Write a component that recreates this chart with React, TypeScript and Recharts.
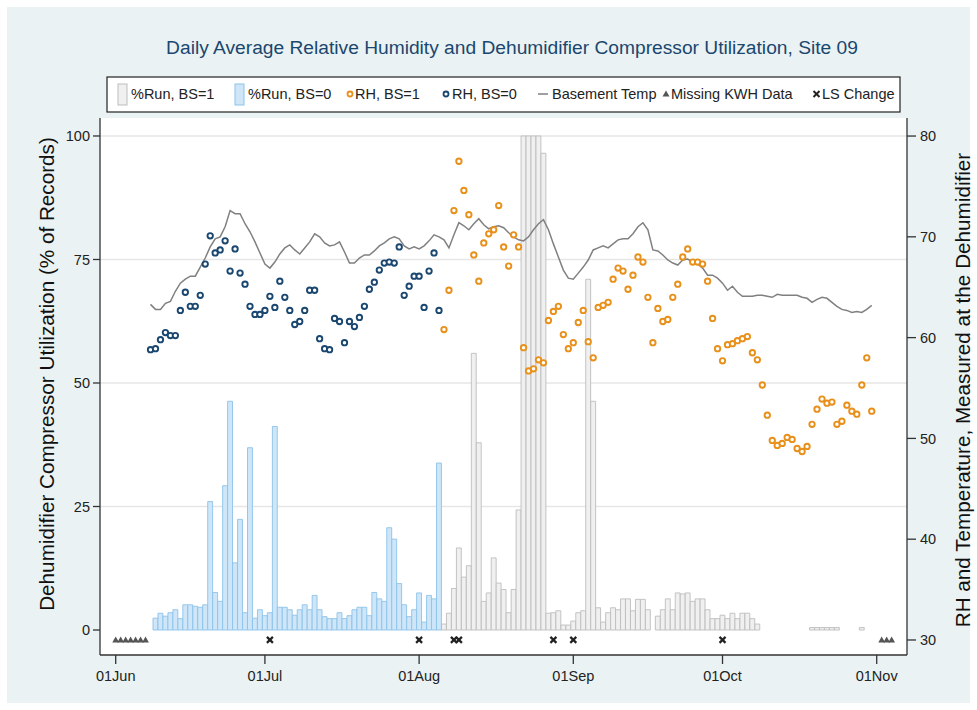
import React from 'react';
import { ComposedChart, Bar, Line, Scatter, XAxis, YAxis, CartesianGrid } from 'recharts';

const FONT = '"Liberation Sans", Arial, Helvetica, sans-serif';

const TITLE = 'Daily Average Relative Humidity and Dehumidifier Compressor Utilization, Site 09';
const LEFT_TITLE = 'Dehumidifier Compressor Utilization (% of Records)';
const RIGHT_TITLE = 'RH and Temperature, Measured at the Dehumidifier';

// x axis: day index (0 = 01Jun)
const xTickDays = [0, 30, 61, 92, 122, 153];
const xTickLabels = ['01Jun', '01Jul', '01Aug', '01Sep', '01Oct', '01Nov'];
const leftTicks = [0, 25, 50, 75, 100];
const rightTicks = [30, 40, 50, 60, 70, 80];
const gridValues = [25, 50, 75, 100];

// %Run, BS=0 (days 8..65)
const runBS0Start = 8;
const runBS0 = [
  2.4, 3.4, 2.8, 3.5, 4.1, 2.3, 5.1, 5.1, 4.8, 4.6, 5.1, 26.0, 7.6, 5.8, 29.2, 46.3, 13.6, 22.4, 3.5, 36.9,
  2.4, 4.1, 2.9, 3.5, 41.2, 4.6, 4.6, 4.1, 3.0, 4.1, 5.1, 4.1, 7.0, 4.1, 2.7, 2.3, 2.3, 3.5, 2.3, 2.9,
  4.1, 4.6, 4.6, 2.9, 7.6, 6.3, 5.8, 20.7, 18.4, 9.4, 5.1, 2.7, 4.1, 7.5, 1.6, 7.0, 6.3, 33.8,
];

// %Run, BS=1 (days 66..150)
const runBS1Start = 66;
const runBS1: (number | null)[] = [
  1.2, 3.4, 8.4, 16.6, 10.7, 13.0, 56, 37.9, 5.8, 7.5, 14.6, 9.5, 8.2, 3.5, 8.2, 24.3, 100, 100, 100, 100,
  96.5, 3.4, 3.5, 3.9, 1.0, 1.0, 1.8, 3.5, 3.9, 71, 46.3, 4.5, 1.6, 3.5, 4.5, 4.1, 6.3, 6.3, 3.9, 6.2,
  6.2, 4.1, null, 2.8, 4.1, 6.3, 4.1, 7.5, 7.3, 7.5, 5.8, 6.3, 6.3, 4.1, 2.3, 2.3, 3.0, 2.3, 3.4, 2.3,
  3.4, 3.4, 2.3, 1.2, null, null, null, null, null, null, null, null, null, null, 0.5, 0.5, 0.5, 0.5, 0.5, 0.5,
  null, null, null, null, 0.5,
];

// RH, BS=0 (days 7..65)
const rhBS0Start = 7;
const rhBS0 = [
  58.8, 58.9, 59.8, 60.5, 60.2, 60.2, 62.7, 64.5, 63.1, 63.1, 64.2, 67.3, 70.1, 68.4, 68.7, 69.6, 66.6, 68.8, 66.4, 65.3,
  63.1, 62.3, 62.3, 62.7, 64.1, 63.0, 65.6, 64.0, 62.7, 61.3, 61.6, 62.7, 64.7, 64.7, 59.9, 58.9, 58.8, 61.9, 61.6, 59.5,
  61.6, 61.1, 62.0, 63.1, 64.8, 65.5, 66.7, 67.4, 67.5, 67.4, 69.0, 64.2, 65.1, 66.1, 66.1, 63.0, 66.6, 68.4, 62.7,
];

// RH, BS=1 (days 66..152)
const rhBS1Start = 66;
const rhBS1 = [
  60.8, 64.7, 72.6, 77.5, 74.6, 72.2, 68.2, 65.6, 69.4, 70.3, 70.7, 73.1, 69.0, 67.1, 70.2, 69.0, 59.0, 56.7, 56.9, 57.8,
  57.5, 61.7, 62.6, 63.1, 60.3, 58.9, 59.5, 61.5, 62.7, 59.6, 58.0, 63.0, 63.2, 63.5, 65.8, 66.9, 66.6, 64.8, 66.2, 68.0,
  67.5, 64.0, 59.5, 62.9, 61.6, 61.8, 64.0, 65.3, 68.0, 68.8, 67.5, 67.5, 67.3, 65.6, 61.9, 58.9, 57.7, 59.3, 59.4, 59.7,
  59.9, 60.1, 58.5, 57.8, 55.3, 52.3, 49.8, 49.3, 49.5, 50.1, 49.9, 49.0, 48.7, 49.2, 51.4, 52.9, 53.9, 53.5, 53.6, 51.4,
  51.7, 53.3, 52.7, 52.4, 55.3, 58.0, 52.7,
];

// Basement Temp (days 7..152)
const tempStart = 7;
const basementTemp = [
  63.3, 62.8, 62.8, 63.4, 63.6, 64.6, 65.4, 65.8, 66.1, 66.1, 67.0, 67.9, 69.0, 69.8, 70.0, 71.0, 72.6, 72.3, 72.3, 71.3,
  70.5, 69.5, 68.4, 67.3, 66.9, 67.5, 68.3, 68.9, 69.2, 68.7, 68.3, 68.9, 69.5, 70.3, 70.0, 69.4, 69.1, 69.2, 69.5, 68.5,
  67.4, 67.4, 67.9, 68.2, 68.2, 68.6, 69.1, 69.4, 69.8, 70.0, 69.8, 69.1, 68.8, 69.0, 68.8, 69.1, 69.6, 70.2, 70.0, 69.7,
  68.9, 70.2, 71.4, 71.1, 70.7, 71.3, 71.8, 71.2, 70.8, 71.0, 71.1, 70.9, 70.4, 70.0, 69.7, 69.6, 70.0, 70.7, 71.3, 71.7,
  70.7, 69.3, 68.0, 66.7, 65.9, 65.8, 66.4, 67.0, 67.7, 68.7, 68.9, 69.1, 68.9, 69.3, 69.7, 69.8, 69.8, 70.3, 71.0, 71.4,
  70.7, 68.7, 68.6, 68.2, 67.7, 67.4, 67.2, 67.7, 67.8, 67.5, 67.3, 66.9, 66.2, 66.2, 65.9, 65.4, 64.7, 65.1, 64.5, 64.1,
  64.1, 64.1, 64.2, 64.2, 64.1, 64.0, 64.3, 64.2, 64.2, 64.2, 64.2, 64.0, 63.9, 63.5, 63.8, 64.0, 63.9, 63.5, 63.1, 62.8,
  62.7, 62.5, 62.6, 62.5, 62.8, 63.2,
];

const missingKwhDays = [0, 1, 2, 3, 4, 5, 6, 154, 155, 156];
const lsChangeDays = [31, 61, 68, 69, 88, 92, 122];
const markerRowValue = -2;

const LAST_DAY = 156;

const valAt = (arr: (number | null)[], start: number, d: number) => {
  const i = d - start;
  if (i < 0 || i >= arr.length) return null;
  return arr[i];
};

const runData = Array.from({ length: LAST_DAY + 1 }, (_, d) => ({
  day: d,
  run1: valAt(runBS1, runBS1Start, d),
  run0: valAt(runBS0, runBS0Start, d),
}));

const series = (arr: (number | null)[], start: number) =>
  arr.map((v, i) => ({ day: start + i, v })).filter((p) => p.v !== null);

const rh0Data = series(rhBS0, rhBS0Start);
const rh1Data = series(rhBS1, rhBS1Start);
const tempData = series(basementTemp, tempStart);
const missingData = missingKwhDays.map((d) => ({ day: d, v: markerRowValue }));
const lsData = lsChangeDays.map((d) => ({ day: d, v: markerRowValue }));

const NAVY = '#1a476f';
const ORANGE = '#e8901a';
const TEMP = '#808080';
const BLUE_FILL = '#cfe6f8';
const BLUE_STROKE = '#8cc3ea';
const GRAY_FILL = '#f0f0f0';
const GRAY_STROKE = '#bdbdbd';
const BG = '#eaf2f3';

const ringShape = (color: string) => (p: any) =>
  p.cx == null || p.cy == null ? <g /> : (
    <circle cx={p.cx} cy={p.cy} r={2.7} fill="#fff" stroke={color} strokeWidth={1.9} />
  );

const triShape = (p: any) => (
  <path d={`M${p.cx},${p.cy - 3.3} L${p.cx + 3.4},${p.cy + 2.6} L${p.cx - 3.4},${p.cy + 2.6} Z`} fill="#555" />
);

const crossShape = (p: any) => (
  <g stroke="#222" strokeWidth={2.2} strokeLinecap="butt">
    <line x1={p.cx - 3} y1={p.cy - 3} x2={p.cx + 3} y2={p.cy + 3} />
    <line x1={p.cx - 3} y1={p.cy + 3} x2={p.cx + 3} y2={p.cy - 3} />
  </g>
);

const tickStyle = { fontSize: 14.5, fill: '#222', fontFamily: FONT };
const axisLine = { stroke: '#333', strokeWidth: 1.3 };

function Overlay() {
  const ly = 94;
  const txt = { fontSize: 14.5, fill: '#222', fontFamily: FONT, dominantBaseline: 'central' as const };
  return (
    <svg width={977} height={710} style={{ position: 'absolute', left: 0, top: 0, pointerEvents: 'none' }}>
      <text x={512} y={47} textAnchor="middle" dominantBaseline="central" fontSize={19.2} fill={NAVY} fontFamily={FONT}>
        {TITLE}
      </text>
      <rect x={107} y={77} width={793} height={35} fill="#fff" stroke="#222" strokeWidth={1.2} />
      <rect x={118} y={84} width={9} height={21} fill={GRAY_FILL} stroke={GRAY_STROKE} strokeWidth={1} />
      <text x={131} y={ly} {...txt}>%Run, BS=1</text>
      <rect x={235} y={84} width={9} height={21} fill={BLUE_FILL} stroke={BLUE_STROKE} strokeWidth={1} />
      <text x={248} y={ly} {...txt}>%Run, BS=0</text>
      <circle cx={350} cy={ly} r={2.5} fill="#fff" stroke={ORANGE} strokeWidth={1.8} />
      <text x={355} y={ly} {...txt}>RH, BS=1</text>
      <circle cx={446} cy={ly} r={2.5} fill="#fff" stroke={NAVY} strokeWidth={1.8} />
      <text x={452} y={ly} {...txt}>RH, BS=0</text>
      <line x1={538} y1={ly} x2={548} y2={ly} stroke={TEMP} strokeWidth={1.5} />
      <text x={552} y={ly} {...txt}>Basement Temp</text>
      <path d={`M666,${ly - 3.5} L669.5,${ly + 2.5} L662.5,${ly + 2.5} Z`} fill="#555" />
      <text x={671} y={ly} {...txt}>Missing KWH Data</text>
      <g stroke="#222" strokeWidth={2}>
        <line x1={813.5} y1={ly - 3} x2={819.5} y2={ly + 3} />
        <line x1={813.5} y1={ly + 3} x2={819.5} y2={ly - 3} />
      </g>
      <text x={822} y={ly} {...txt}>LS Change</text>
      <text
        x={46}
        y={374}
        transform="rotate(-90 46 374)"
        textAnchor="middle"
        dominantBaseline="central"
        fontSize={20.7}
        fill="#111"
        fontFamily={FONT}
      >
        {LEFT_TITLE}
      </text>
      <text
        x={962}
        y={390}
        transform="rotate(-90 962 390)"
        textAnchor="middle"
        dominantBaseline="central"
        fontSize={20.7}
        fill="#111"
        fontFamily={FONT}
      >
        {RIGHT_TITLE}
      </text>
    </svg>
  );
}

export default function App() {
  return (
    <div style={{ position: 'absolute', left: 0, top: 0, width: 977, height: 710, background: '#fff' }}>
      <div style={{ position: 'absolute', left: 7, top: 7, width: 963, height: 696, background: BG }} />
      <div style={{ position: 'absolute', left: 0, top: 0 }}>
        <ComposedChart
          width={977}
          height={710}
          data={runData}
          margin={{ top: 118, right: 10, bottom: 15, left: 40 }}
        >
          <CartesianGrid
            yAxisId="left"
            vertical={false}
            horizontal
            horizontalValues={gridValues}
            stroke="#e6e6e6"
            strokeWidth={1.5}
            fill="#ffffff"
          />
          <XAxis
            dataKey="day"
            type="number"
            domain={[-3.156, 159.09]}
            allowDataOverflow
            ticks={xTickDays}
            interval={0}
            tickFormatter={(v: number) => xTickLabels[xTickDays.indexOf(v)] ?? ''}
            height={40}
            tickSize={9}
            tickMargin={7}
            tick={tickStyle}
            axisLine={axisLine}
            tickLine={axisLine}
          />
          <YAxis
            yAxisId="left"
            orientation="left"
            width={60}
            domain={[-5.06, 103.64]}
            allowDataOverflow
            ticks={leftTicks}
            interval={0}
            tickSize={7}
            tickMargin={3}
            tick={tickStyle}
            axisLine={axisLine}
            tickLine={axisLine}
          />
          <YAxis
            yAxisId="right"
            orientation="right"
            width={60}
            domain={[28.51, 81.79]}
            allowDataOverflow
            ticks={rightTicks}
            interval={0}
            tickSize={9}
            tickMargin={4}
            tick={tickStyle}
            axisLine={axisLine}
            tickLine={axisLine}
          />
          <Bar
            yAxisId="left"
            dataKey="run1"
            stackId="run"
            barSize={4.9}
            fill={GRAY_FILL}
            stroke={GRAY_STROKE}
            strokeWidth={0.9}
            isAnimationActive={false}
          />
          <Bar
            yAxisId="left"
            dataKey="run0"
            stackId="run"
            barSize={4.9}
            fill={BLUE_FILL}
            stroke={BLUE_STROKE}
            strokeWidth={0.9}
            isAnimationActive={false}
          />
          <Scatter
            yAxisId="right"
            data={rh1Data}
            dataKey="v"
            shape={ringShape(ORANGE)}
            isAnimationActive={false}
          />
          <Scatter
            yAxisId="right"
            data={rh0Data}
            dataKey="v"
            shape={ringShape(NAVY)}
            isAnimationActive={false}
          />
          <Line
            yAxisId="right"
            data={tempData}
            dataKey="v"
            type="linear"
            stroke={TEMP}
            strokeWidth={1.5}
            dot={false}
            activeDot={false}
            isAnimationActive={false}
          />
          <Scatter yAxisId="left" data={missingData} dataKey="v" shape={triShape} isAnimationActive={false} />
          <Scatter yAxisId="left" data={lsData} dataKey="v" shape={crossShape} isAnimationActive={false} />
        </ComposedChart>
      </div>
      <Overlay />
    </div>
  );
}
